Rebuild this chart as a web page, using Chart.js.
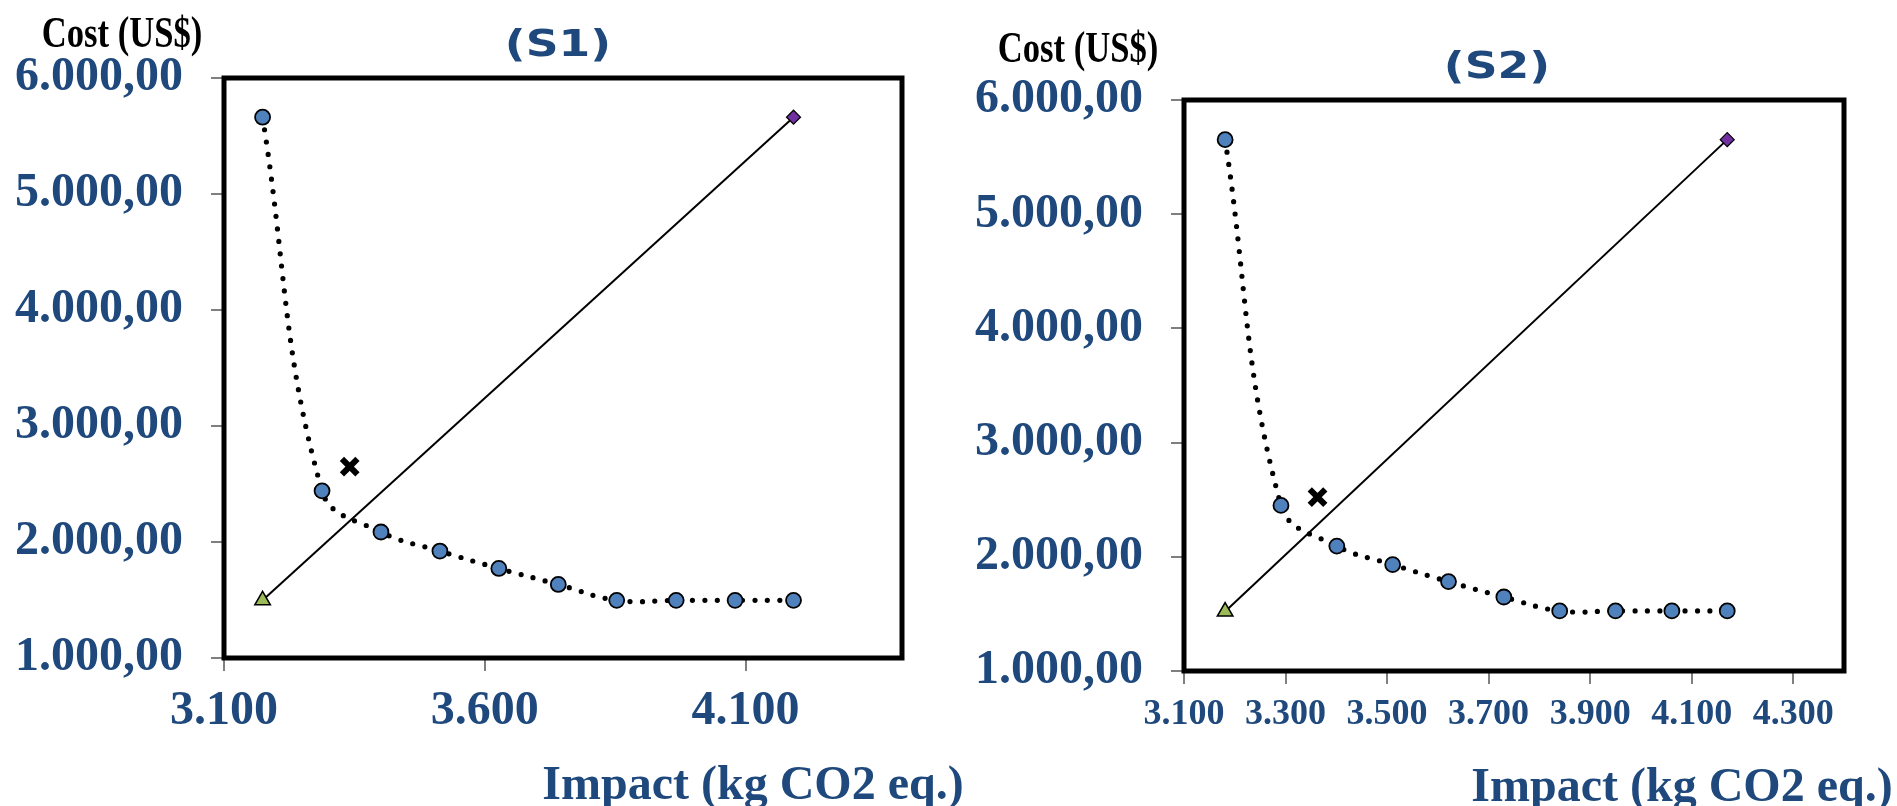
<!DOCTYPE html>
<html>
<head>
<meta charset="utf-8">
<script src="https://cdn.jsdelivr.net/npm/chart.js@4.4.1/dist/chart.umd.min.js"></script>
<style>
  html, body { margin: 0; padding: 0; background: #fff; }
  #wrap { position: relative; width: 1897px; height: 806px; overflow: hidden; }
  canvas { position: absolute; top: 0; }
  .lbl { position: absolute; white-space: nowrap; line-height: 1; transform-origin: center top; }
  .cost { font: bold 45px 'Liberation Serif', serif; color: #000; }
  .title { font: bold 38px 'DejaVu Sans', sans-serif; color: #1F497D; }
  .impact { font: bold 48px 'Liberation Serif', serif; color: #1F497D; }
</style>
</head>
<body>
<div id="wrap">
  <canvas id="chart-s1" width="950" height="806" style="left:0"></canvas>
  <canvas id="chart-s2" width="947" height="806" style="left:950px"></canvas>

  <div class="lbl cost" style="left:122px; top:6px; transform: translateX(-50%) scaleX(0.77);">Cost (US$)</div>
  <div class="lbl title" style="left:558px; top:21px; transform: translateX(-50%) scaleX(1.2);">(S1)</div>
  <div class="lbl impact" style="left:753px; top:755px; transform: translateX(-50%);">Impact (kg CO2 eq.)</div>

  <div class="lbl cost" style="left:1078px; top:21px; transform: translateX(-50%) scaleX(0.77);">Cost (US$)</div>
  <div class="lbl title" style="left:1497px; top:43px; transform: translateX(-50%) scaleX(1.2);">(S2)</div>
  <div class="lbl impact" style="left:1682px; top:757px; transform: translateX(-50%);">Impact (kg CO2 eq.)</div>
</div>

<script>
// ---- data ----------------------------------------------------------

// S1
const s1Impact = [3174, 3288, 3401, 3514, 3627, 3741, 3853, 3967, 4080, 4192];
const s1Cost   = [5662, 2441, 2086, 1922, 1772, 1634, 1497, 1497, 1497, 1497];
const s1Utopia = { x: 3174, y: 1497 };
const s1Nadir  = { x: 4192, y: 5662 };
const s1Chosen = { x: 3341, y: 2649 };

// S2
const s2Impact = [3181, 3291, 3401, 3511, 3621, 3730, 3840, 3950, 4061, 4170];
const s2Cost   = [5653, 2450, 2094, 1932, 1783, 1648, 1526, 1526, 1526, 1526];
const s2Utopia = { x: 3181, y: 1521 };
const s2Nadir  = { x: 4170, y: 5653 };
const s2Chosen = { x: 3363, y: 2522 };

// ticks
const costTicks       = [1000, 2000, 3000, 4000, 5000, 6000];
const costTickLabels  = ['1.000,00', '2.000,00', '3.000,00', '4.000,00', '5.000,00', '6.000,00'];
const s1ImpactTicks      = [3100, 3600, 4100];
const s1ImpactTickLabels = ['3.100', '3.600', '4.100'];
const s2ImpactTicks      = [3100, 3300, 3500, 3700, 3900, 4100, 4300];
const s2ImpactTickLabels = ['3.100', '3.300', '3.500', '3.700', '3.900', '4.100', '4.300'];

const BLUE_TXT = '#1F497D';

// plot frame (Excel style heavy black border)
const plotFrame = {
  id: 'plotFrame',
  beforeDatasetsDraw(chart) {
    const { ctx, chartArea: a } = chart;
    ctx.save();
    ctx.strokeStyle = '#000';
    ctx.lineWidth = 5;
    ctx.strokeRect(a.left, a.top, a.right - a.left, a.bottom - a.top);
    ctx.restore();
  }
};

function buildChart(id, o) {
  const pareto = o.impact.map((x, i) => ({ x, y: o.cost[i] }));

  return new Chart(document.getElementById(id), {
    type: 'scatter',
    data: {
      datasets: [
        { // chosen solution
          data: [o.chosen],
          pointStyle: 'crossRot', pointRadius: 11,
          borderColor: '#000', borderWidth: 6, showLine: false
        },
        { // utopia point
          data: [o.utopia],
          pointStyle: 'triangle', pointRadius: 9,
          backgroundColor: '#9BBB59', borderColor: '#000', borderWidth: 1.5, showLine: false
        },
        { // nadir point
          data: [o.nadir],
          pointStyle: 'rectRot', pointRadius: 7,
          backgroundColor: '#7030A0', borderColor: '#000', borderWidth: 1.2, showLine: false
        },
        { // pareto front
          data: pareto,
          showLine: true,
          tension: 0.4,
          borderColor: '#000', borderWidth: 5.2,
          borderDash: [0, 12.5], borderCapStyle: 'round',
          pointStyle: 'circle', pointRadius: 7.5,
          pointBackgroundColor: '#4F81BD', pointBorderColor: '#000', pointBorderWidth: 1.8
        },
        { // utopia -> nadir
          data: [o.utopia, o.nadir],
          showLine: true, pointRadius: 0,
          borderColor: '#000', borderWidth: 2
        }
      ]
    },
    options: {
      responsive: false,
      animation: false,
      devicePixelRatio: 1,
      layout: { padding: { left: 0, top: o.top, right: o.right, bottom: 0 } },
      plugins: { legend: { display: false }, tooltip: { enabled: false }, title: { display: false } },
      scales: {
        x: {
          type: 'linear', min: 3100, max: 4400,
          afterBuildTicks: s => { s.ticks = o.xTicks.map(v => ({ value: v })); },
          afterFit: s => { s.height = o.xHeight; },
          grid: { drawOnChartArea: false, tickLength: 13, color: '#7F7F7F', lineWidth: 2 },
          border: { display: false },
          ticks: {
            autoSkip: false, maxRotation: 0,
            padding: o.xPad,
            color: BLUE_TXT,
            font: { family: 'Liberation Serif', size: o.xFont, weight: 'bold' },
            callback: (v, i) => o.xLabels[i]
          }
        },
        y: {
          type: 'linear', min: 1000, max: 6000,
          afterBuildTicks: s => { s.ticks = costTicks.map(v => ({ value: v })); },
          afterFit: s => { s.width = o.yWidth; },
          grid: { drawOnChartArea: false, tickLength: 13, color: '#7F7F7F', lineWidth: 2 },
          border: { display: false },
          ticks: {
            autoSkip: false,
            padding: 28,
            color: BLUE_TXT,
            font: { family: 'Liberation Serif', size: 48, weight: 'bold' },
            callback: (v, i) => costTickLabels[i]
          }
        }
      }
    },
    plugins: [plotFrame]
  });
}

buildChart('chart-s1', {
  impact: s1Impact, cost: s1Cost, utopia: s1Utopia, nadir: s1Nadir, chosen: s1Chosen,
  xTicks: s1ImpactTicks, xLabels: s1ImpactTickLabels, xFont: 48, xPad: 12,
  top: 78, right: 48, yWidth: 224, xHeight: 148
});

buildChart('chart-s2', {
  impact: s2Impact, cost: s2Cost, utopia: s2Utopia, nadir: s2Nadir, chosen: s2Chosen,
  xTicks: s2ImpactTicks, xLabels: s2ImpactTickLabels, xFont: 36, xPad: 9,
  top: 100, right: 53, yWidth: 234, xHeight: 135
});
</script>
</body>
</html>
